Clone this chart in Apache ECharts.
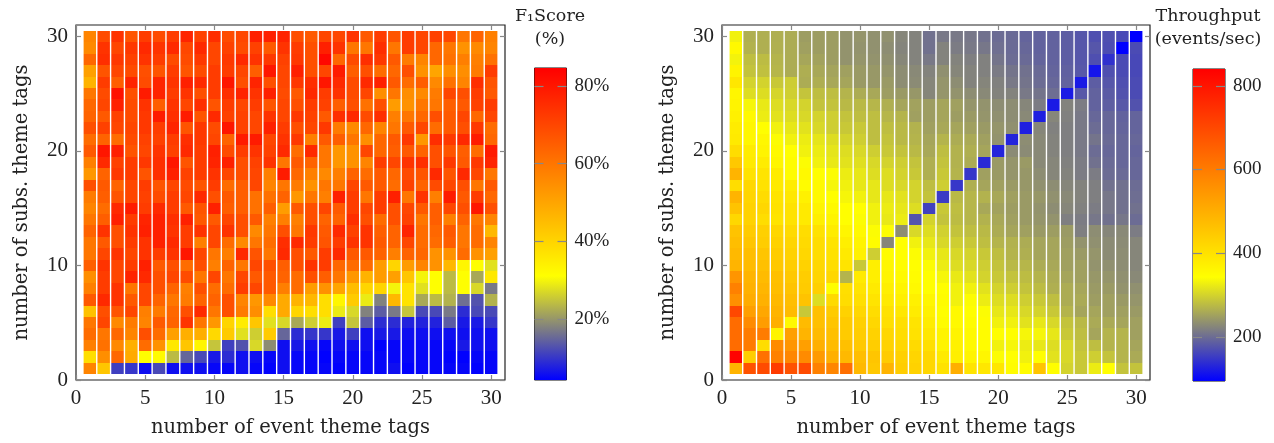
<!DOCTYPE html>
<html><head><meta charset="utf-8">
<style>html,body{margin:0;padding:0;background:#fff}#c{width:1274px;height:443px}</style>
<script src="https://cdn.jsdelivr.net/npm/echarts@6/dist/echarts.min.js"></script>
</head><body><div id="c"></div>
<script>
// rows listed from y=30 (top) to y=1 (bottom); each row is x=1..30
const f1Rows = [
[57,69,74,67,72,69,72,77,71,75,69,70,78,78,77,68,66,70,70,74,66,72,67,72,70,71,70,60,64,58],
[56,74,70,73,76,74,76,70,76,70,71,69,71,66,74,72,68,78,74,60,60,75,60,72,70,63,60,54,56,57],
[63,75,73,71,74,72,69,69,73,70,73,76,74,73,71,73,68,83,63,69,75,73,66,59,57,63,61,58,58,61],
[51,67,70,69,68,67,72,67,69,72,72,70,65,80,70,78,68,70,79,65,68,62,63,68,54,50,55,55,59,72],
[47,72,65,77,69,77,74,78,76,72,80,68,77,68,70,73,75,80,76,69,76,78,66,62,65,56,61,57,75,67],
[60,69,81,68,79,77,72,74,68,72,75,77,74,78,69,66,76,72,74,69,70,55,60,55,56,59,70,68,72,66],
[63,70,78,69,74,65,74,70,75,67,72,70,72,67,70,68,72,71,65,68,61,68,52,54,60,60,65,66,71,72],
[64,66,71,69,73,79,75,79,67,76,71,71,70,74,70,73,71,66,75,76,69,75,58,60,63,68,66,70,63,70],
[68,71,70,70,73,72,77,67,73,69,80,71,70,78,72,68,70,73,59,56,63,57,60,66,70,62,66,68,73,62],
[62,64,62,69,71,71,72,75,73,70,64,79,79,70,74,73,58,66,65,60,55,63,66,73,53,75,73,76,79,63],
[66,80,78,67,70,74,71,76,72,78,69,72,74,71,76,62,76,60,53,54,70,63,65,66,64,68,67,65,62,79],
[58,76,71,72,73,75,80,67,72,77,78,68,71,74,60,66,64,60,53,54,57,72,70,74,75,68,73,66,73,77],
[53,64,73,72,67,75,78,71,72,74,70,68,70,58,79,63,58,56,58,64,62,66,63,69,67,76,67,76,70,60],
[68,66,64,70,72,67,70,69,67,72,62,65,70,57,60,59,54,60,60,70,66,66,62,71,64,69,70,68,60,66],
[59,65,67,70,71,69,72,70,76,68,66,65,61,61,64,53,60,58,78,72,60,72,78,60,74,58,79,66,72,63],
[57,62,76,79,72,76,72,66,67,78,65,65,61,65,52,66,68,70,66,72,70,72,68,70,66,65,70,68,80,68],
[60,65,78,72,77,78,75,78,66,66,70,68,66,58,58,58,68,64,64,75,68,62,68,71,60,65,58,64,60,57],
[64,74,68,74,78,78,74,72,74,70,74,68,56,60,68,60,73,66,76,71,74,65,64,77,62,63,66,60,62,46],
[60,66,68,72,74,78,76,72,58,70,62,56,60,62,75,76,72,67,72,74,74,66,64,70,62,62,65,60,62,57],
[60,70,74,70,74,72,74,80,70,60,58,76,67,60,76,68,66,72,76,66,66,64,58,64,63,54,54,62,54,51],
[65,74,70,72,78,66,68,62,68,58,64,60,70,68,65,68,74,72,63,62,62,52,40,52,57,54,46,33,31,28],
[55,72,70,77,76,68,70,69,60,70,60,70,66,66,64,62,68,65,60,53,47,52,51,43,30,31,24,31,22,36],
[58,72,74,60,70,68,64,58,68,62,62,72,70,66,58,62,52,54,50,45,40,40,30,37,28,31,24,31,27,17],
[66,76,74,66,70,64,60,59,64,64,68,57,53,56,49,47,46,38,33,42,29,18,46,37,22,24,23,16,13,23],
[44,68,67,70,58,59,63,68,76,60,68,59,55,38,49,40,38,38,29,27,18,14,17,25,12,12,17,9,12,12],
[60,70,56,59,57,66,64,74,60,53,40,35,43,28,27,22,26,29,11,25,14,9,9,8,8,8,14,7,7,10],
[62,60,63,57,68,62,51,48,48,39,42,28,26,42,15,9,10,10,7,11,6,7,7,6,6,6,6,6,6,6],
[58,61,56,48,62,54,36,43,33,25,11,13,27,19,6,7,6,5,6,6,6,4.5,5,5,5,5,5,7,6,6],
[38,55,63,49,31,32,24,15,12,7,9,6,6,5,6,5,5,4.5,5,5,5,5,5,5,5,5,4.5,4.5,5,5],
[57,43,11,10,6,12,6,6,6,5,5,6,5,4.5,6,5,5,5,4.5,5,5,5,6,4.5,5,5,5,5,4.5,5]
];
const tpRows = [
[330,265,265,265,262,248,248,248,238,240,236,236,225,222,205,212,212,210,205,200,198,192,190,190,185,178,172,172,165,95],
[355,268,265,266,262,250,248,248,238,238,236,232,223,222,205,222,215,212,210,203,198,195,190,190,185,178,178,170,95,168],
[332,280,278,270,262,256,252,248,238,240,238,235,226,222,212,222,222,218,220,208,200,198,192,190,185,178,172,143,168,165],
[365,285,282,272,262,264,258,254,250,245,243,240,232,228,222,235,225,222,220,214,208,205,198,192,188,180,115,172,168,165],
[390,300,300,290,294,262,264,258,255,245,243,245,232,230,225,240,232,222,224,220,212,208,200,195,190,120,185,178,172,168],
[360,310,310,302,296,286,280,280,270,262,258,248,245,242,225,240,238,232,228,222,222,212,208,202,120,180,190,183,175,168],
[365,335,322,310,305,300,285,285,275,275,272,265,255,252,248,255,250,240,238,232,232,225,215,120,222,215,190,186,180,175],
[370,355,325,315,310,305,300,295,285,280,280,272,270,250,248,255,248,245,240,235,232,228,125,225,220,212,195,195,190,192],
[380,360,345,330,320,315,305,295,290,290,280,280,275,268,250,258,255,250,245,240,235,125,225,220,218,212,200,195,192,192],
[385,360,358,340,330,325,318,310,300,295,280,285,275,270,255,270,262,260,250,238,130,232,228,222,218,212,208,198,195,195],
[410,380,365,355,345,330,325,318,310,305,295,290,285,275,258,280,268,265,255,130,230,230,228,222,218,212,200,195,195,192],
[450,385,380,360,350,340,330,322,315,312,305,300,295,285,265,285,268,262,135,245,240,245,228,225,220,215,205,198,195,195],
[490,400,395,380,350,355,345,340,325,320,310,310,300,290,265,290,270,148,250,245,240,242,232,225,222,215,215,200,198,195],
[410,420,400,385,380,350,355,335,330,320,320,310,305,300,280,295,148,265,255,250,245,242,236,232,225,222,218,205,205,200],
[490,425,412,395,390,370,355,345,335,330,320,320,315,300,285,153,275,272,268,258,250,245,242,236,228,222,218,210,205,202],
[460,430,420,400,400,385,365,355,345,345,330,325,320,310,158,290,280,272,258,252,248,245,238,232,225,220,215,210,205,205],
[420,430,410,395,400,385,375,365,345,340,330,322,325,175,300,285,278,272,268,258,250,245,240,238,218,215,210,205,210,200],
[460,445,435,420,415,410,400,380,360,355,340,340,232,305,310,298,285,280,275,262,255,250,245,248,245,218,232,225,228,215],
[470,455,440,430,425,415,410,395,375,365,350,225,345,330,320,305,295,290,280,270,268,262,255,255,248,238,235,230,230,225],
[480,470,455,440,430,420,410,400,385,370,295,350,345,340,330,320,305,300,290,280,270,265,255,255,250,245,240,230,232,225],
[490,475,465,450,440,430,420,410,395,290,375,360,350,345,340,325,310,305,295,285,275,272,262,258,250,250,238,235,232,225],
[550,490,475,465,450,440,425,420,270,385,375,365,355,350,345,335,322,315,300,290,285,278,270,262,255,250,242,240,235,228],
[590,495,485,470,460,445,435,345,405,395,385,375,365,355,345,345,330,330,315,300,295,285,278,265,262,256,245,245,238,235],
[560,505,495,480,470,460,310,415,410,405,395,385,375,370,360,350,330,340,325,310,310,295,290,280,262,260,248,250,245,240],
[700,530,515,490,475,290,465,445,430,420,410,400,390,380,370,345,355,345,340,320,320,305,300,290,270,255,255,250,250,245],
[630,570,535,500,355,475,465,455,445,435,420,405,405,395,380,350,355,350,350,330,330,315,320,305,285,275,260,260,255,250],
[630,600,600,365,530,490,475,465,445,440,430,420,410,400,390,365,365,355,350,345,345,335,335,320,290,280,255,270,270,250],
[630,600,410,570,550,530,500,475,465,450,440,430,420,415,405,365,370,355,350,330,335,325,320,310,305,285,280,270,270,255],
[835,440,620,590,580,570,540,500,480,470,455,445,435,425,420,385,375,365,360,340,345,330,345,315,305,290,295,285,270,260],
[490,680,695,725,680,695,590,580,625,480,450,490,440,430,420,400,500,395,390,390,350,350,455,345,300,290,325,345,285,285]
];
const xTicks = [0,5,10,15,20,25,30];
const yTicks = [0,10,20,30];
const f1Ticks = [20,40,60,80];
const tpTicks = [200,400,600,800];
const f1Range = [4.4,84.6];
const tpRange = [95,840];
const xName = 'number of event theme tags';
const yName = 'number of subs. theme tags';
const f1Title = 'F\u2081Score\n(%)';
const tpTitle = 'Throughput\n(events/sec)';
const ramp = ['#0000ff','#808080','#ffff00','#ffbf00','#ff8000','#ff4000','#ff0000'];

const FONT = '"Liberation Serif", serif';
const NAMEFONT = '"DejaVu Serif", serif';
const TXT = '#222';
const tidy = rows => rows.flatMap((r,i)=>r.map((v,j)=>[j+1,30-i,v]));

const renderCell = (params, api) => {
  const x = api.value(0), y = api.value(1);
  const a = api.coord([x-0.45,y+0.5]), b = api.coord([x+0.45,y-0.5]);
  const top = Math.round(a[1]), bot = Math.round(b[1]);
  return {type:'rect',shape:{x:a[0],y:top,width:b[0]-a[0],height:bot-top},style:{fill:api.visual('color')}};
};
const renderBar = (params, api) => {
  const a = api.coord([0,api.value(1)]), b = api.coord([1,api.value(0)]);
  return {type:'rect',shape:{x:a[0],y:a[1],width:b[0]-a[0],height:b[1]-a[1]},
    style:{fill:new echarts.graphic.LinearGradient(0,1,0,0,ramp.map((c,i)=>({offset:i/6,color:c})))}};
};

const grids = [
 {left:76,top:25,width:429,height:355,show:true,borderColor:'#222',borderWidth:1.2,backgroundColor:'#fff'},
 {left:722,top:25,width:428,height:356,show:true,borderColor:'#222',borderWidth:1.2,backgroundColor:'#fff'},
 {left:534.5,top:68,width:32,height:312,show:true,borderColor:'#111',borderWidth:1,backgroundColor:'transparent'},
 {left:1193,top:69,width:32,height:312,show:true,borderColor:'#111',borderWidth:1,backgroundColor:'transparent'}
];
const tick = vals => ({show:true,inside:true,length:5,customValues:vals,lineStyle:{color:'#888',width:1.2}});
const noLine = {show:false,onZero:false};
const off = {show:false};
const xAxes = [], yAxes = [];
[0,1].forEach(g=>{
  xAxes.push({gridIndex:g,type:'value',min:0,max:31,position:'bottom',name:xName,nameLocation:'middle',nameGap:38,
    nameTextStyle:{fontFamily:NAMEFONT,fontSize:19.5,color:TXT},axisLine:noLine,axisTick:tick(xTicks),splitLine:off,
    axisLabel:{customValues:xTicks,fontFamily:FONT,fontSize:21,color:TXT,margin:8}});
  xAxes.push({gridIndex:g,type:'value',min:0,max:31,position:'top',axisLine:noLine,axisTick:tick(xTicks),splitLine:off,axisLabel:{show:false}});
  yAxes.push({gridIndex:g,type:'value',min:0,max:31,position:'left',name:yName,nameLocation:'middle',nameGap:44,
    nameTextStyle:{fontFamily:NAMEFONT,fontSize:19.5,color:TXT},axisLine:noLine,axisTick:tick(yTicks),splitLine:off,
    axisLabel:{customValues:yTicks,fontFamily:FONT,fontSize:21,color:TXT,margin:8}});
  yAxes.push({gridIndex:g,type:'value',min:0,max:31,position:'right',axisLine:noLine,axisTick:tick(yTicks),splitLine:off,axisLabel:{show:false}});
});
[[2,f1Range,f1Ticks,v=>v+'%'],[3,tpRange,tpTicks,v=>String(v)]].forEach(([g,rng,tks,fmt])=>{
  xAxes.push({gridIndex:g,type:'value',min:0,max:1,show:false});
  xAxes.push({gridIndex:g,type:'value',min:0,max:1,show:false});
  const t = Object.assign(tick(tks),{length:9,lineStyle:{color:'#888',width:1.2}});
  yAxes.push({gridIndex:g,type:'value',min:rng[0],max:rng[1],position:'right',z:10,axisLine:noLine,axisTick:t,splitLine:off,
    axisLabel:{customValues:tks,formatter:fmt,fontFamily:FONT,fontSize:19,color:TXT,margin:8}});
  yAxes.push({gridIndex:g,type:'value',min:rng[0],max:rng[1],position:'left',z:10,axisLine:noLine,axisTick:t,splitLine:off,axisLabel:{show:false}});
});

const titleStyle = {fontFamily:NAMEFONT,fontSize:17.5,fontWeight:'normal',color:TXT,lineHeight:23};
const option = {
  animation:false,
  backgroundColor:'#fff',
  grid:grids,
  xAxis:xAxes,
  yAxis:yAxes,
  title:[
    {text:f1Title,left:545,top:0,textAlign:'center',textStyle:titleStyle},
    {text:tpTitle,left:1203,top:0,textAlign:'center',textStyle:titleStyle}
  ],
  visualMap:[
    {show:false,seriesIndex:0,dimension:2,min:f1Range[0],max:f1Range[1],inRange:{color:ramp}},
    {show:false,seriesIndex:1,dimension:2,min:tpRange[0],max:tpRange[1],inRange:{color:ramp}}
  ],
  series:[
    {type:'custom',name:'F1 score',xAxisIndex:0,yAxisIndex:0,renderItem:renderCell,data:tidy(f1Rows),encode:{x:0,y:1}},
    {type:'custom',name:'Throughput',xAxisIndex:2,yAxisIndex:2,renderItem:renderCell,data:tidy(tpRows),encode:{x:0,y:1}},
    {type:'custom',name:'F1 colour bar',xAxisIndex:4,yAxisIndex:4,renderItem:renderBar,data:[[f1Range[0],f1Range[1]]],z:1},
    {type:'custom',name:'Throughput colour bar',xAxisIndex:6,yAxisIndex:6,renderItem:renderBar,data:[[tpRange[0],tpRange[1]]],z:1}
  ]
};
const chart = echarts.init(document.getElementById('c'),null,{renderer:'canvas'});
chart.setOption(option);
</script></body></html>
